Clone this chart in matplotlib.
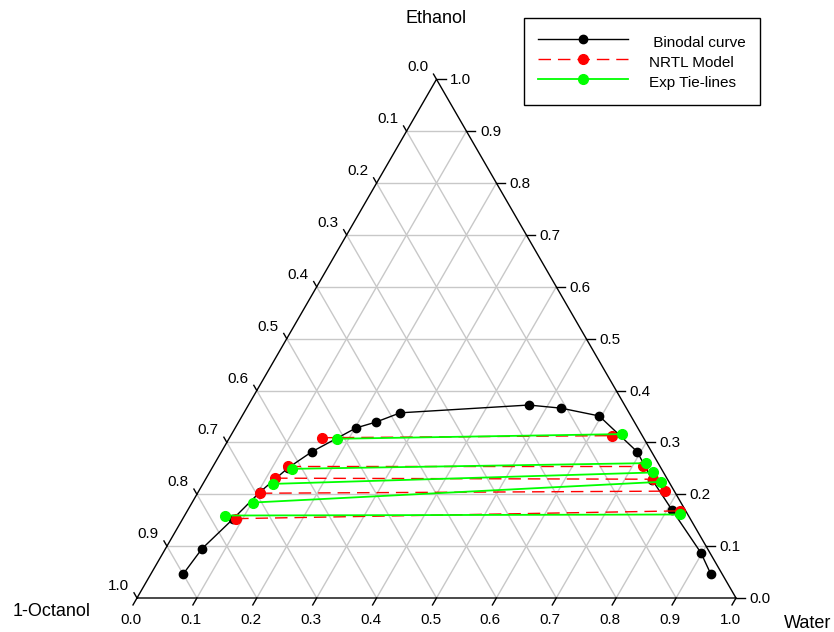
import numpy as np
import matplotlib.pyplot as plt

plt.rcParams['font.family'] = ['Liberation Sans', 'DejaVu Sans']

# mass fractions: (water, ethanol), 1-octanol = 1 - water - ethanol
binodal_water = [0.054, 0.061, 0.084, 0.103, 0.127, 0.151, 0.202, 0.229, 0.261,
                 0.468, 0.525, 0.596, 0.694, 0.746, 0.808, 0.898, 0.935]
binodal_ethanol = [0.046, 0.095, 0.152, 0.204, 0.251, 0.282, 0.328, 0.339, 0.357,
                   0.372, 0.366, 0.351, 0.282, 0.228, 0.170, 0.087, 0.046]

# NRTL tie-lines: octanol-rich phase / water-rich phase
nrtl_org_water = [0.155, 0.124, 0.115, 0.104, 0.089]
nrtl_org_ethanol = [0.309, 0.255, 0.231, 0.202, 0.153]
nrtl_aq_water = [0.636, 0.718, 0.747, 0.778, 0.823]
nrtl_aq_ethanol = [0.313, 0.255, 0.229, 0.206, 0.168]

# experimental tie-lines
exp_org_water = [0.181, 0.134, 0.117, 0.101, 0.067]
exp_org_ethanol = [0.307, 0.249, 0.220, 0.184, 0.159]
exp_aq_water = [0.652, 0.720, 0.741, 0.763, 0.826]
exp_aq_ethanol = [0.316, 0.260, 0.242, 0.224, 0.161]

ticks = [0.0, 0.1, 0.2, 0.3, 0.4, 0.5, 0.6, 0.7, 0.8, 0.9, 1.0]
tick_labels = ["0.0", "0.1", "0.2", "0.3", "0.4", "0.5", "0.6", "0.7", "0.8", "0.9", "1.0"]

H = np.sqrt(3) / 2
PX = 1 / 599  # one pixel in axis units


# ternary (water, ethanol) -> cartesian
def to_xy(water, ethanol):
    w = np.asarray(water, dtype=float)
    e = np.asarray(ethanol, dtype=float)
    return w + e / 2, e * H


fig = plt.figure(figsize=(8.34, 6.32), dpi=100)
ax = fig.add_axes([137 / 834, 34 / 632, 599 / 834, 518.7 / 632])
ax.set_xlim(0, 1)
ax.set_ylim(0, H)
ax.axis('off')

grid_kw = dict(color='#c8c8c8', lw=1, zorder=1)
for t in ticks[1:-1]:
    # constant ethanol (horizontal)
    x, y = to_xy([0, 1 - t], [t, t])
    ax.plot(x, y, **grid_kw)
    # constant water
    x, y = to_xy([t, t], [0, 1 - t])
    ax.plot(x, y, **grid_kw)
    # constant octanol
    x, y = to_xy([1 - t, 0], [0, 1 - t])
    ax.plot(x, y, **grid_kw)

# triangle frame
x, y = to_xy([0, 1, 0, 0], [0, 0, 1, 0])
ax.plot(x, y, color='black', lw=1, zorder=2, clip_on=False)

# ticks and tick labels
for t, lab in zip(ticks, tick_labels):
    # bottom axis: water
    bx, by = to_xy(t, 0)
    ax.plot([bx, bx - 0.5 * 8 * PX], [by, by - H * 8 * PX], color='black', lw=1, clip_on=False)
    ax.text(bx - 6 * PX, by - 22 * PX, lab, ha='center', va='center', fontsize=11)
    # left axis: 1-octanol
    lx, ly = to_xy(0, 1 - t)
    ax.plot([lx, lx - 0.5 * 6 * PX], [ly, ly + H * 6 * PX], color='black', lw=1, clip_on=False)
    ax.text(lx - 19 * PX, ly + 12 * PX, lab, ha='center', va='center', fontsize=11)
    # right axis: ethanol
    rx, ry = to_xy(1 - t, t)
    ax.plot([rx, rx + 9 * PX], [ry, ry], color='black', lw=1, clip_on=False)
    ax.text(rx + 24 * PX, ry - 1 * PX, lab, ha='center', va='center', fontsize=11)

# axis titles
ax.text(0.499, 0.967, "Ethanol", ha='center', va='center', fontsize=13)
ax.text(-0.142, -0.023, "1-Octanol", ha='center', va='center', fontsize=13)
ax.text(1.119, -0.043, "Water", ha='center', va='center', fontsize=13)

# binodal curve
x, y = to_xy(binodal_water, binodal_ethanol)
ax.plot(x, y, color='black', lw=1, marker='o', ms=6, zorder=3, clip_on=False,
        label=" Binodal curve")

# NRTL tie-lines
for i in range(len(nrtl_org_water)):
    x, y = to_xy([nrtl_org_water[i], nrtl_aq_water[i]], [nrtl_org_ethanol[i], nrtl_aq_ethanol[i]])
    ax.plot(x, y, color='red', lw=1, dashes=(9, 5), marker='o', ms=7, zorder=4,
            label="NRTL Model" if i == 0 else None)

# experimental tie-lines
for i in range(len(exp_org_water)):
    x, y = to_xy([exp_org_water[i], exp_aq_water[i]], [exp_org_ethanol[i], exp_aq_ethanol[i]])
    ax.plot(x, y, color='#00ff00', lw=1.3, marker='o', ms=7, zorder=5,
            label="Exp Tie-lines" if i == 0 else None)

leg = fig.legend(loc='upper left', bbox_to_anchor=(524 / 834, 1 - 18 / 632),
                 bbox_transform=fig.transFigure, fontsize=11, frameon=True,
                 fancybox=False, edgecolor='black', framealpha=1,
                 handlelength=5.9, handleheight=1.63, handletextpad=1.4,
                 labelspacing=0.0, borderpad=0.9, borderaxespad=0,
                 numpoints=1, markerfirst=True)
leg.get_frame().set_linewidth(1)

fig.savefig('out.png', dpi=100)
